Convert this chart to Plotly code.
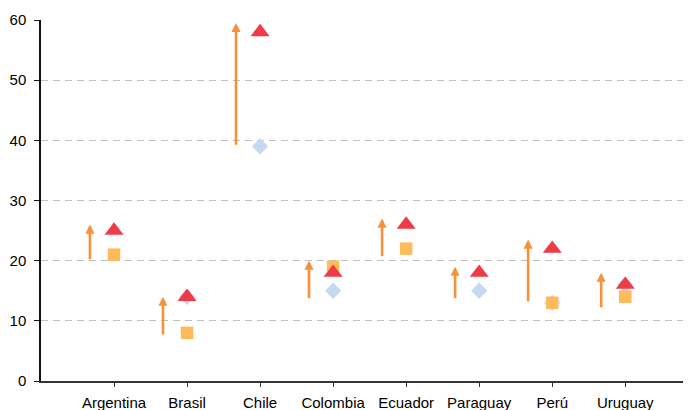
import plotly.graph_objects as go

# Data
countries = ["Argentina", "Brasil", "Chile", "Colombia", "Ecuador", "Paraguay", "Perú", "Uruguay"]
arrow_start = [20, 7.5, 39, 13.5, 20.5, 13.5, 13, 12]
arrow_end = [26, 14, 59.5, 20, 27, 19, 23.5, 18]
triangle_vals = [25, 14, 58, 18, 26, 18, 22, 16]
square_vals = [21, 8, None, 19, 22, None, 13, 14]
diamond_vals = [None, 14, 39, 15, None, 15, 13, 16]

ARROW_OFFSET = -0.33
xs = list(range(len(countries)))

fig = go.Figure()

fig.add_trace(go.Scatter(
    x=xs, y=diamond_vals, mode="markers", name="diamond",
    marker=dict(symbol="diamond", size=12.5, color="#C6D9F0"),
))
fig.add_trace(go.Scatter(
    x=xs, y=square_vals, mode="markers", name="square",
    marker=dict(symbol="square", size=12.5, color="#FDBB5B"),
))
fig.add_trace(go.Scatter(
    x=xs, y=triangle_vals, mode="markers", name="triangle",
    marker=dict(symbol="triangle-up", size=16.5, color="#EE3B47"),
))

# Orange arrows, shifted left of each category
for i, (s, e) in enumerate(zip(arrow_start, arrow_end)):
    fig.add_annotation(
        x=i + ARROW_OFFSET, y=e, ax=i + ARROW_OFFSET, ay=s,
        xref="x", yref="y", axref="x", ayref="y",
        text="", showarrow=True, arrowhead=2, arrowsize=0.7,
        arrowwidth=2.6, arrowcolor="#F7923A", standoff=0,
    )

# the page body adds an 8px margin, so the figure is offset by that amount
fig.update_layout(
    width=683, height=402,
    margin=dict(l=33, r=0, t=12, b=29),
    plot_bgcolor="white", paper_bgcolor="white",
    showlegend=False,
    font=dict(family="Liberation Sans, Arial, sans-serif", size=15, color="#000000"),
)
fig.update_xaxes(
    range=[-1, 7.9], tickvals=xs, ticktext=countries,
    showgrid=False, zeroline=False, automargin=False,
    showline=True, linecolor="#333333", linewidth=1.5,
    ticks="outside", ticklen=4, tickcolor="#333333",
    ticklabelstandoff=3,
)
fig.update_yaxes(
    range=[0, 60], dtick=10, automargin=False,
    showgrid=True, gridcolor="#C0C0C0", griddash="7px,5px", gridwidth=1,
    zeroline=False,
    showline=True, linecolor="#111111", linewidth=1.5,
    ticks="outside", ticklen=5, tickcolor="#111111",
    ticklabelstandoff=5,
)

fig.write_html("out.html")
